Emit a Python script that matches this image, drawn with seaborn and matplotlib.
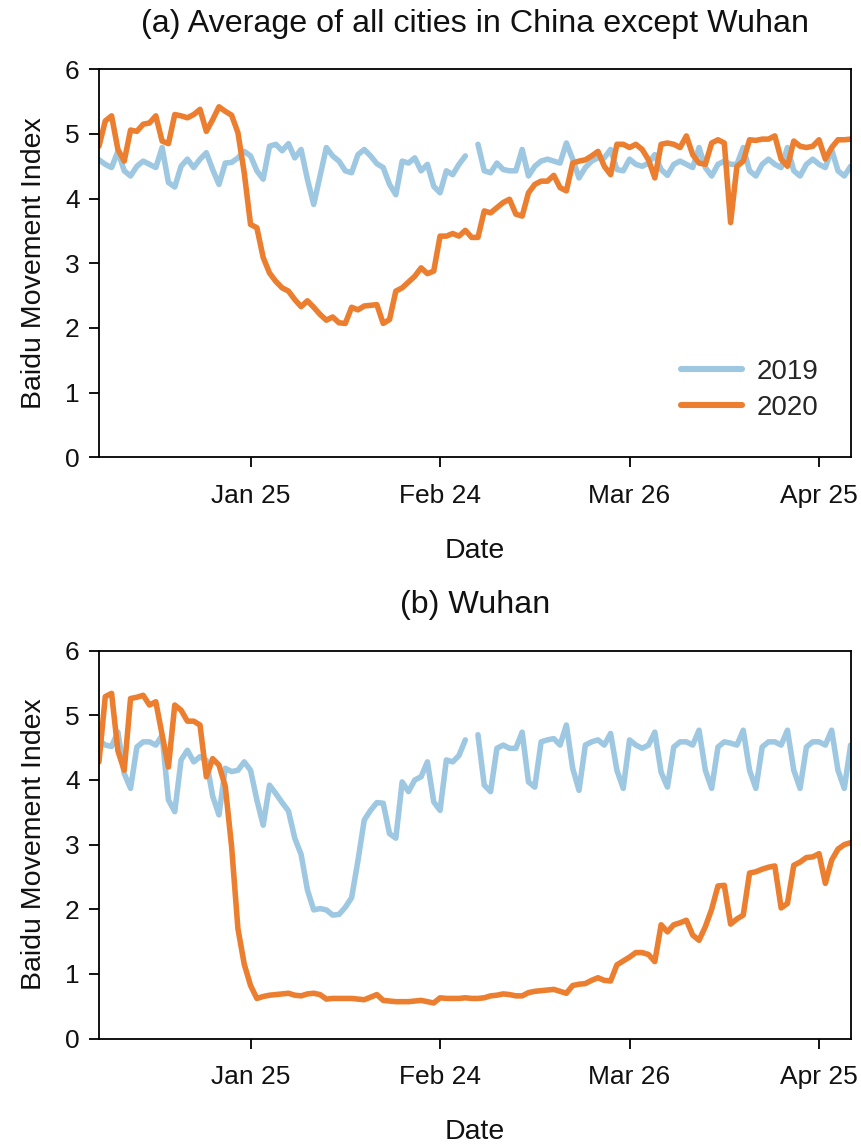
import numpy as np
import pandas as pd
import matplotlib
matplotlib.use("Agg")
import matplotlib.pyplot as plt
import seaborn as sns

# ---------------- data ----------------
nan = np.nan
days = list(range(120))
tick_pos = [24, 54, 84, 114]
tick_labels = ["Jan 25", "Feb 24", "Mar 26", "Apr 25"]

other_2020 = [4.81, 5.20, 5.28, 4.76, 4.58, 5.06, 5.04, 5.15, 5.17, 5.28,
              4.89, 4.85, 5.30, 5.28, 5.25, 5.30, 5.38, 5.04, 5.22, 5.42,
              5.35, 5.29, 5.02, 4.40, 3.60, 3.55, 3.09, 2.85, 2.72, 2.62,
              2.57, 2.44, 2.33, 2.42, 2.32, 2.21, 2.12, 2.17, 2.08, 2.07,
              2.32, 2.28, 2.34, 2.35, 2.36, 2.07, 2.13, 2.57, 2.62, 2.71,
              2.80, 2.93, 2.84, 2.88, 3.42, 3.42, 3.46, 3.42, 3.51, 3.40,
              3.40, 3.81, 3.78, 3.86, 3.94, 3.99, 3.76, 3.73, 4.09, 4.22,
              4.27, 4.27, 4.36, 4.17, 4.12, 4.55, 4.58, 4.60, 4.66, 4.73,
              4.50, 4.37, 4.84, 4.84, 4.79, 4.84, 4.76, 4.60, 4.32, 4.84,
              4.86, 4.84, 4.79, 4.97, 4.68, 4.55, 4.53, 4.86, 4.91, 4.86,
              3.63, 4.50, 4.58, 4.91, 4.90, 4.92, 4.92, 4.97, 4.61, 4.50,
              4.89, 4.81, 4.79, 4.81, 4.91, 4.61, 4.79, 4.91, 4.91, 4.92]

other_2019 = [4.60, 4.53, 4.48, 4.73, 4.43, 4.35, 4.50, 4.58, 4.53, 4.48,
              4.79, 4.25, 4.18, 4.50, 4.61, 4.48, 4.61, 4.71, 4.45, 4.22,
              4.55, 4.56, 4.63, 4.73, 4.66, 4.43, 4.30, 4.81, 4.84, 4.74,
              4.85, 4.63, 4.76, 4.30, 3.91, 4.35, 4.79, 4.66, 4.58, 4.43,
              4.40, 4.68, 4.76, 4.66, 4.54, 4.48, 4.22, 4.06, 4.58, 4.55,
              4.63, 4.43, 4.53, 4.19, 4.09, 4.43, 4.37, 4.53, 4.66, nan,
              4.84, 4.43, 4.40, 4.55, 4.45, 4.43, 4.43, 4.76, 4.35, 4.50,
              4.58, 4.61, 4.58, 4.55, 4.86, 4.61, 4.32, 4.48, 4.58, 4.63,
              4.63, 4.76, 4.45, 4.43, 4.61, 4.53, 4.50, 4.55, 4.68, 4.45,
              4.36, 4.53, 4.58, 4.53, 4.48, 4.79, 4.48, 4.35, 4.53, 4.58,
              4.53, 4.53, 4.79, 4.43, 4.35, 4.53, 4.61, 4.53, 4.48, 4.79,
              4.43, 4.35, 4.53, 4.61, 4.53, 4.48, 4.76, 4.43, 4.35, 4.50]

wuhan_2020 = [4.28, 5.29, 5.34, 4.45, 4.15, 5.26, 5.28, 5.31, 5.16, 5.21,
              4.70, 4.20, 5.16, 5.08, 4.91, 4.91, 4.85, 4.05, 4.33, 4.23,
              3.90, 2.97, 1.70, 1.15, 0.82, 0.62, 0.65, 0.67, 0.68, 0.69,
              0.70, 0.67, 0.66, 0.69, 0.70, 0.68, 0.61, 0.62, 0.62, 0.62,
              0.62, 0.61, 0.60, 0.64, 0.68, 0.59, 0.58, 0.57, 0.57, 0.57,
              0.58, 0.59, 0.57, 0.55, 0.63, 0.62, 0.62, 0.62, 0.63, 0.62,
              0.62, 0.63, 0.66, 0.67, 0.69, 0.68, 0.66, 0.66, 0.71, 0.73,
              0.74, 0.75, 0.76, 0.73, 0.70, 0.82, 0.84, 0.85, 0.90, 0.94,
              0.90, 0.89, 1.14, 1.20, 1.26, 1.33, 1.33, 1.30, 1.19, 1.76,
              1.65, 1.76, 1.79, 1.83, 1.60, 1.52, 1.73, 2.00, 2.36, 2.37,
              1.77, 1.85, 1.91, 2.56, 2.58, 2.62, 2.65, 2.67, 2.02, 2.09,
              2.68, 2.73, 2.80, 2.81, 2.86, 2.40, 2.76, 2.93, 3.00, 3.03]

wuhan_2019 = [4.62, 4.54, 4.52, 4.74, 4.10, 3.87, 4.51, 4.59, 4.59, 4.54,
              4.69, 3.69, 3.51, 4.31, 4.46, 4.28, 4.36, 4.30, 3.75, 3.46,
              4.18, 4.13, 4.15, 4.28, 4.15, 3.69, 3.30, 3.92, 3.79, 3.65,
              3.52, 3.10, 2.85, 2.30, 1.99, 2.01, 1.99, 1.91, 1.92, 2.03,
              2.18, 2.75, 3.38, 3.53, 3.65, 3.64, 3.17, 3.10, 3.97, 3.82,
              4.00, 4.05, 4.28, 3.66, 3.53, 4.31, 4.28, 4.38, 4.62, nan,
              4.70, 3.92, 3.82, 4.49, 4.54, 4.49, 4.49, 4.74, 3.97, 3.89,
              4.59, 4.62, 4.64, 4.54, 4.85, 4.18, 3.84, 4.54, 4.59, 4.62,
              4.54, 4.72, 4.15, 3.87, 4.62, 4.54, 4.49, 4.54, 4.74, 4.12,
              3.89, 4.51, 4.59, 4.59, 4.54, 4.77, 4.15, 3.87, 4.51, 4.59,
              4.57, 4.54, 4.77, 4.15, 3.87, 4.51, 4.59, 4.59, 4.54, 4.77,
              4.15, 3.87, 4.51, 4.59, 4.59, 4.54, 4.77, 4.15, 3.87, 4.54]

years = ["2019", "2020"]
colors = {"2019": "#9ec8e2", "2020": "#ec7f2f"}


def long_frame(v2019, v2020):
    rows = []
    for d, v in zip(days, v2019):
        seg = "2019a" if d < 59 else "2019b"
        rows.append((d, v, "2019", seg))
    for d, v in zip(days, v2020):
        rows.append((d, v, "2020", "2020"))
    df = pd.DataFrame(rows, columns=["day", "value", "year", "seg"])
    return df.dropna()


# ---------------- style ----------------
sns.set_theme(style="white")
plt.rcParams["font.family"] = ["Liberation Sans", "DejaVu Sans"]
plt.rcParams["axes.edgecolor"] = "black"
plt.rcParams["axes.linewidth"] = 1.3

fig = plt.figure(figsize=(8.62, 11.45), dpi=100)
ax_a = fig.add_axes([0.1148, 0.6006, 0.8720, 0.3389])
ax_b = fig.add_axes([0.1148, 0.0930, 0.8720, 0.3387])

panels = [
    (ax_a, other_2019, other_2020, "(a) Average of all cities in China except Wuhan", True),
    (ax_b, wuhan_2019, wuhan_2020, "(b) Wuhan", False),
]

for ax, v19, v20, title, show_legend in panels:
    df = long_frame(v19, v20)
    sns.lineplot(data=df, x="day", y="value", hue="year", units="seg",
                 estimator=None, palette=colors, hue_order=years,
                 linewidth=4.0, ax=ax, legend=show_legend)
    ax.set_xlim(0, 119)
    ax.set_ylim(0, 6)
    ax.set_yticks(range(0, 7))
    ax.set_xticks(tick_pos)
    ax.set_xticklabels(tick_labels)
    ax.tick_params(axis="both", which="major", direction="out", length=7,
                   width=1.3, color="black", labelsize=19, labelcolor="#111111",
                   bottom=True, left=True, top=False, right=False)
    ax.tick_params(axis="x", pad=12)
    ax.tick_params(axis="y", pad=7)
    for s in ax.spines.values():
        s.set_visible(True)
        s.set_color("black")
        s.set_linewidth(1.3)
    ax.set_xlabel("Date", fontsize=20.5, labelpad=22, color="#111111")
    ax.set_ylabel("Baidu Movement Index", fontsize=20.5, labelpad=13, color="#111111")
    ax.set_title(title, fontsize=23.2, pad=27, color="#111111")
    if show_legend:
        leg = ax.legend(loc="lower right", bbox_to_anchor=(0.99, 0.03),
                        frameon=False, fontsize=20, handlelength=2.2,
                        handletextpad=0.5, labelspacing=0.35)
        for line in leg.get_lines():
            line.set_linewidth(4.4)

fig.savefig("out.png", dpi=100)
